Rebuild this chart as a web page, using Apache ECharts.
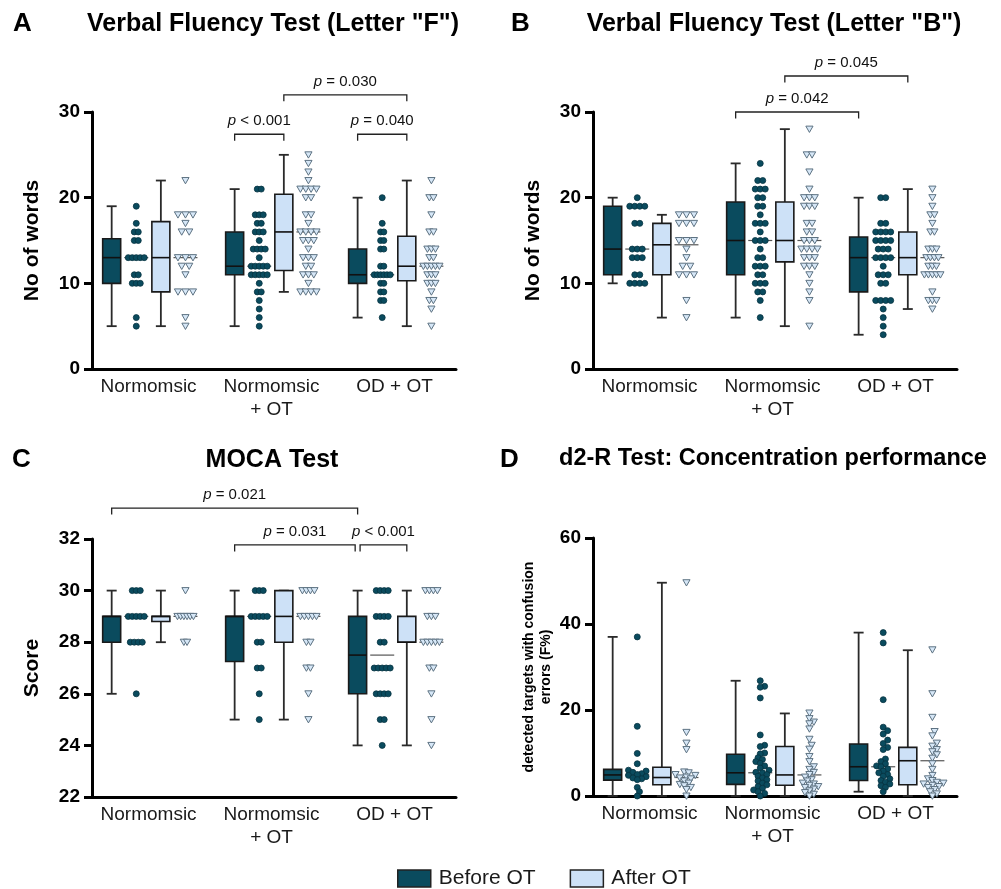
<!DOCTYPE html>
<html lang="en">
<head>
    <meta charset="UTF-8">
    <title>Olfactory training - cognitive tests</title>
    <script src="https://cdn.jsdelivr.net/npm/echarts@6.0.0/dist/echarts.min.js"></script>
</head>
<style>
    body{
        margin: 0;
        padding: 0;
        background: #fff;
    }
</style>
<body>
<div id="main" style="width: 1001px;height:889px;"></div>
<script>
    var groups = ['Normomsic', 'Normomsic\n+ OT', 'OD + OT'];

    // A: verbal fluency "F"  -- box = [min, q1, median, q3, max]
    var fBoxBefore = [[5, 10, 13, 15.2, 19], [5, 11, 12, 16, 21], [6, 10, 11, 14, 20]];
    var fBoxAfter = [[5, 9, 13, 17.2, 22], [9, 11.5, 16, 20.4, 25], [5, 10.3, 12, 15.5, 22]];
    var fPtsBefore = [
        [19, 17, 16, 16, 15, 15, 13, 13, 13, 13, 13, 11, 11, 10, 10, 10, 6, 5],
        [21, 21, 18, 18, 18, 17, 17, 16, 16, 16, 15, 14, 14, 14, 14, 13, 12, 12, 12, 12, 12, 11, 11, 11, 11, 11, 10, 9, 9, 8, 7, 6, 5],
        [20, 17, 16, 16, 15, 15, 14, 14, 12, 12, 11, 11, 11, 11, 11, 11, 10, 10, 9, 9, 8, 8, 6]
    ];
    var fPtsAfter = [
        [22, 18, 18, 18, 17, 16, 16, 13, 13, 13, 12, 12, 11, 9, 9, 9, 6, 5],
        [25, 24, 23, 22, 21, 21, 21, 21, 20, 20, 18, 18, 17, 16, 16, 16, 16, 15, 15, 15, 14, 13, 13, 13, 12, 12, 11, 11, 11, 10, 9, 9, 9, 9],
        [22, 20, 20, 18, 16, 16, 14, 14, 14, 13, 13, 12, 12, 12, 12, 12, 11, 11, 11, 10, 10, 10, 9, 8, 8, 7, 5]
    ];
    var fBrackets = [[1.1, 2.1, 32.0, '= 0.030'], [0.7, 1.1, 27.4, '< 0.001'], [1.7, 2.1, 27.4, '= 0.040']];

    // B: verbal fluency "B"
    var bBoxBefore = [[10, 11, 14, 19, 20], [6, 11, 15, 19.5, 24], [4, 9, 13, 15.4, 20]];
    var bBoxAfter = [[6, 11, 14.5, 17, 18], [5, 12.5, 15, 19.5, 28], [7, 11, 13, 16, 21]];
    var bPtsBefore = [
        [20, 19, 19, 19, 19, 17, 17, 14, 14, 14, 13, 13, 13, 11, 11, 10, 10, 10, 10],
        [24, 22, 22, 21, 21, 21, 20, 20, 19, 19, 18, 17, 17, 17, 16, 15, 15, 15, 14, 13, 13, 12, 12, 12, 11, 11, 10, 10, 10, 9, 9, 8, 6],
        [20, 20, 17, 17, 16, 16, 16, 16, 15, 15, 15, 15, 14, 14, 14, 13, 13, 13, 13, 12, 11, 11, 11, 10, 10, 8, 8, 8, 8, 7, 6, 5, 4]
    ];
    var bPtsAfter = [
        [18, 18, 18, 17, 17, 17, 15, 15, 15, 14, 13, 12, 12, 11, 11, 11, 8, 6],
        [28, 25, 25, 23, 21, 20, 20, 20, 19, 19, 19, 17, 17, 16, 16, 15, 15, 15, 14, 14, 14, 14, 13, 13, 13, 12, 12, 12, 11, 10, 9, 8, 5],
        [21, 20, 19, 18, 18, 17, 16, 16, 14, 14, 14, 13, 13, 13, 13, 12, 12, 12, 11, 11, 11, 11, 11, 9, 8, 8, 8, 7]
    ];
    var bBrackets = [[1.1, 2.1, 34.2, '= 0.045'], [0.7, 1.7, 30.0, '= 0.042']];

    // C: MOCA
    var mBoxBefore = [[26, 28, 29, 29, 30], [25, 27.25, 29, 29, 30], [24, 26, 27.5, 29, 30]];
    var mBoxAfter = [[28, 28.8, 29, 29, 30], [25, 28, 29, 30, 30], [24, 28, 28, 29, 30]];
    var mPtsBefore = [
        [30, 30, 30, 29, 29, 29, 29, 29, 28, 28, 28, 28, 26],
        [30, 30, 30, 29, 29, 29, 29, 29, 28, 28, 27, 27, 26, 25],
        [30, 30, 30, 30, 29, 29, 29, 29, 28, 28, 27, 27, 27, 27, 27, 26, 26, 26, 26, 25, 25, 24]
    ];
    var mPtsAfter = [
        [30, 29, 29, 29, 29, 29, 29, 28, 28],
        [30, 30, 30, 30, 29, 29, 29, 29, 29, 28, 28, 27, 27, 26, 25],
        [30, 30, 30, 30, 29, 29, 29, 28, 28, 28, 28, 28, 27, 27, 26, 25, 24]
    ];
    var mBrackets = [[-0.3, 1.7, 33.2, '= 0.021'], [0.7, 1.68, 31.77, '= 0.031'], [1.72, 2.1, 31.77, '< 0.001']];

    // D: d2-R confusion errors (F%)
    var dBoxBefore = [[0, 3.7, 4.9, 6.2, 37], [0, 2.7, 5.4, 9.7, 26.8], [1, 3.6, 6.8, 12.1, 38]];
    var dBoxAfter = [[0, 2.6, 4.3, 6.7, 49.6], [0, 2.5, 4.9, 11.5, 19.2], [0, 2.6, 8.2, 11.3, 33.9]];
    var dPtsBefore = [
        [37, 16.2, 9.9, 7.5, 6, 5.8, 5.5, 5.2, 5, 4.8, 4.5, 4.2, 4, 3.8, 2, 1, 0],
        [26.8, 25.5, 25.3, 22.8, 14.2, 11.8, 11.5, 10, 9.8, 8.9, 8.5, 8, 7.6, 7, 6.5, 6, 5.5, 5.4, 5, 4.6, 4.2, 3.8, 3.5, 3, 2.6, 2.2, 1.8, 1.4, 1, 0.6, 0],
        [38, 35.6, 22.4, 16, 15.2, 14.4, 13, 12.2, 11.3, 10.8, 8.6, 8, 7.5, 7, 6.8, 6.3, 5.8, 5.4, 5, 4.6, 4, 3.6, 3.2, 2.8, 2.4, 2, 1]
    ];
    var dPtsAfter = [
        [49.6, 14.8, 12.3, 10.8, 5.6, 5.4, 5, 4.8, 4.4, 4.2, 4, 3.5, 3, 2.7, 2.4, 2, 1.5, 0],
        [19.3, 18, 17.2, 16.8, 15.6, 13.2, 11.8, 10.9, 9.2, 8, 6.8, 6.2, 5.5, 5, 4.4, 3.8, 3.5, 3, 2.8, 2.5, 2.2, 2, 1.6, 1.2, 0.8, 0.4, 0],
        [34, 23.8, 18.3, 15, 14, 12.3, 11.6, 10.8, 10.3, 9.6, 8.8, 7.5, 6.2, 4.8, 4, 3.6, 3.2, 3, 2.8, 2.5, 2.2, 2, 1.5, 1, 0.5, 0]
    ];

    var FONT = '"Liberation Sans", Arial, sans-serif';
    var DARK = '#0a4b5e';
    var LIGHT = '#cde1f7';
    // x offsets inside one group: box before, dots before, box after, dots after
    var OFF = [-0.3, -0.1, 0.1, 0.3];

    var panels = [
        {grid: {left: 92, top: 112, width: 364, height: 257}, min: 0, max: 30, interval: 10, name: 'No of words', nameGap: 48, nameSize: 21,
            boxB: fBoxBefore, boxA: fBoxAfter, ptsB: fPtsBefore, ptsA: fPtsAfter, brackets: fBrackets, swarm: false},
        {grid: {left: 593, top: 112, width: 364, height: 257}, min: 0, max: 30, interval: 10, name: 'No of words', nameGap: 48, nameSize: 21,
            boxB: bBoxBefore, boxA: bBoxAfter, ptsB: bPtsBefore, ptsA: bPtsAfter, brackets: bBrackets, swarm: false},
        {grid: {left: 92, top: 539, width: 364, height: 258}, min: 22, max: 32, interval: 2, name: 'Score', nameGap: 48, nameSize: 21,
            boxB: mBoxBefore, boxA: mBoxAfter, ptsB: mPtsBefore, ptsA: mPtsAfter, brackets: mBrackets, swarm: false},
        {grid: {left: 593, top: 538, width: 364, height: 258}, min: 0, max: 60, interval: 20, name: 'detected targets with confusion\nerrors (F%)', nameGap: 38, nameSize: 14,
            boxB: dBoxBefore, boxA: dBoxAfter, ptsB: dPtsBefore, ptsA: dPtsAfter, brackets: [], swarm: true}
    ];

    function boxRender(fill) {
        return function (params, api) {
            var x = api.value(0);
            var p = [1, 2, 3, 4, 5].map(function (i) { return api.coord([x, api.value(i)]); });
            var cx = p[0][0], hw = 9, cw = 5;
            var ln = {stroke: '#2a2a2a', lineWidth: 1.8};
            return {type: 'group', children: [
                {type: 'line', shape: {x1: cx, y1: p[0][1], x2: cx, y2: p[1][1]}, style: ln},
                {type: 'line', shape: {x1: cx, y1: p[3][1], x2: cx, y2: p[4][1]}, style: ln},
                {type: 'line', shape: {x1: cx - cw, y1: p[0][1], x2: cx + cw, y2: p[0][1]}, style: ln},
                {type: 'line', shape: {x1: cx - cw, y1: p[4][1], x2: cx + cw, y2: p[4][1]}, style: ln},
                {type: 'rect', shape: {x: cx - hw, y: p[3][1], width: 2 * hw, height: p[1][1] - p[3][1]},
                    style: {fill: fill, stroke: '#1a1a1a', lineWidth: 1.6}},
                {type: 'line', shape: {x1: cx - hw, y1: p[2][1], x2: cx + hw, y2: p[2][1]}, style: {stroke: '#111', lineWidth: 1.6}}
            ]};
        };
    }

    // spread the points of one column sideways (rows of equal values, or a beeswarm)
    function layoutColumn(vals, api, x, swarm, maxSp) {
        var cx = api.coord([x, vals[0]])[0];
        var pts = vals.map(function (v) { return {v: v, y: api.coord([x, v])[1], x: cx}; });
        if (!swarm) {
            var rows = {}, maxN = 1;
            pts.forEach(function (p) { (rows[p.v] = rows[p.v] || []).push(p); });
            Object.keys(rows).forEach(function (k) { maxN = Math.max(maxN, rows[k].length); });
            var sp = maxN > 1 ? Math.min(maxSp, 16 / (maxN - 1)) : 0;
            Object.keys(rows).forEach(function (k) {
                var r = rows[k];
                r.forEach(function (p, i) { p.x = cx + (i - (r.length - 1) / 2) * sp; });
            });
        } else {
            var d = 4.4, placed = [];
            pts.slice().sort(function (a, b) { return a.v - b.v; }).forEach(function (p) {
                for (var k = 0; k < 60; k++) {
                    var off = (k % 2 ? 1 : -1) * Math.ceil(k / 2) * d / 2;
                    var ok = placed.every(function (q) {
                        var dx = q.x - (cx + off), dy = q.y - p.y;
                        return dx * dx + dy * dy >= d * d;
                    });
                    if (ok) { p.x = cx + off; break; }
                }
                placed.push(p);
            });
        }
        return pts;
    }

    function scatterRender(ptsArr, triangle, swarm) {
        return function (params, api) {
            var x = api.value(0);
            var med = api.coord([x, api.value(1)]);
            var pts = layoutColumn(ptsArr[params.dataIndex], api, x, swarm, triangle ? 7.5 : 5);
            var children = [{type: 'line', shape: {x1: med[0] - 12, y1: med[1], x2: med[0] + 12, y2: med[1]},
                style: {stroke: '#555', lineWidth: 1.2}}];
            pts.forEach(function (p) {
                if (triangle) {
                    children.push({type: 'polygon', shape: {points: [[p.x - 3.6, p.y - 3], [p.x + 3.6, p.y - 3], [p.x, p.y + 3.3]]},
                        style: {fill: '#d6e7f7', stroke: '#5d7282', lineWidth: 1}});
                } else {
                    children.push({type: 'circle', shape: {cx: p.x, cy: p.y, r: 3},
                        style: {fill: DARK, stroke: '#063240', lineWidth: 0.8}});
                }
            });
            return {type: 'group', children: children};
        };
    }

    function bracketRender(list) {
        return function (params, api) {
            var a = api.coord([api.value(0), api.value(2)]);
            var b = api.coord([api.value(1), api.value(2)]);
            var leg = 6.5;
            return {type: 'group', children: [
                {type: 'polyline', shape: {points: [[a[0], a[1] + leg], [a[0], a[1]], [b[0], a[1]], [b[0], a[1] + leg]]},
                    style: {stroke: '#222', lineWidth: 1.3, fill: null}},
                {type: 'text', x: (a[0] + b[0]) / 2, y: a[1] - 6, style: {
                    text: '{i|p} ' + list[params.dataIndex][3], align: 'center', verticalAlign: 'bottom',
                    font: '15px ' + FONT, fill: '#111',
                    rich: {i: {fontStyle: 'italic', fontSize: 15, fontFamily: FONT, fill: '#111'}}
                }}
            ]};
        };
    }

    var grids = [], xAxes = [], yAxes = [], series = [];
    panels.forEach(function (pn, i) {
        grids.push(pn.grid);
        xAxes.push({
            gridIndex: i, type: 'value', min: -0.46, max: 2.5,
            axisLine: {onZero: false, lineStyle: {color: '#000', width: 3}},
            axisTick: {show: false}, splitLine: {show: false},
            axisLabel: {customValues: [0, 1, 2], formatter: function (v) { return groups[Math.round(v)]; },
                fontSize: 19, color: '#1a1a1a', fontFamily: FONT, margin: 6, lineHeight: 23}
        });
        yAxes.push({
            gridIndex: i, type: 'value', min: pn.min, max: pn.max, interval: pn.interval,
            axisLine: {show: true, onZero: false, lineStyle: {color: '#000', width: 3}},
            axisTick: {show: true, length: 8, lineStyle: {color: '#000', width: 3}},
            axisLabel: {fontSize: 19, fontWeight: 'bold', color: '#000', margin: 12, fontFamily: FONT},
            splitLine: {show: false},
            name: pn.name, nameLocation: 'middle', nameGap: pn.nameGap,
            nameTextStyle: {fontSize: pn.nameSize, fontWeight: 'bold', color: '#000', fontFamily: FONT, lineHeight: pn.nameSize + 3}
        });
        var common = {type: 'custom', xAxisIndex: i, yAxisIndex: i, clip: false};
        series.push(Object.assign({name: 'Before OT', itemStyle: {color: DARK}, encode: {x: 0, y: [1, 2, 3, 4, 5]},
            data: pn.boxB.map(function (b, g) { return [g + OFF[0]].concat(b); }), renderItem: boxRender(DARK)}, common));
        series.push(Object.assign({name: 'After OT', itemStyle: {color: LIGHT}, encode: {x: 0, y: [1, 2, 3, 4, 5]},
            data: pn.boxA.map(function (b, g) { return [g + OFF[2]].concat(b); }), renderItem: boxRender(LIGHT)}, common));
        series.push(Object.assign({encode: {x: 0, y: 1},
            data: pn.boxB.map(function (b, g) { return [g + OFF[1], b[2]]; }), renderItem: scatterRender(pn.ptsB, false, pn.swarm)}, common));
        series.push(Object.assign({encode: {x: 0, y: 1},
            data: pn.boxA.map(function (b, g) { return [g + OFF[3], b[2]]; }), renderItem: scatterRender(pn.ptsA, true, pn.swarm)}, common));
        if (pn.brackets.length) {
            series.push(Object.assign({encode: {x: [0, 1], y: 2}, z: 5,
                data: pn.brackets.map(function (b) { return [b[0], b[1], b[2]]; }), renderItem: bracketRender(pn.brackets)}, common));
        }
    });

    function headText(x, y, text, size, align) {
        return {type: 'text', x: x, y: y, style: {text: text, font: 'bold ' + size + 'px ' + FONT, fill: '#000',
            align: align, verticalAlign: 'middle'}};
    }

    var chart = echarts.init(document.getElementById('main'));
    chart.setOption({
        animation: false,
        backgroundColor: '#fff',
        grid: grids,
        xAxis: xAxes,
        yAxis: yAxes,
        series: series,
        legend: {
            left: 392, top: 863, itemWidth: 33, itemHeight: 17, itemGap: 34, selectedMode: false,
            textStyle: {fontSize: 21, color: '#1a1a1a', fontFamily: FONT, padding: [0, 0, 0, 3]},
            data: [
                {name: 'Before OT', icon: 'rect', itemStyle: {color: DARK, borderColor: '#222', borderWidth: 1.5}},
                {name: 'After OT', icon: 'rect', itemStyle: {color: LIGHT, borderColor: '#222', borderWidth: 1.5}}
            ]
        },
        graphic: [
            headText(13, 24, 'A', 26, 'left'),
            headText(273, 24, 'Verbal Fluency Test (Letter "F")', 25, 'center'),
            headText(511, 24, 'B', 26, 'left'),
            headText(774, 24, 'Verbal Fluency Test (Letter "B")', 25, 'center'),
            headText(12, 460, 'C', 26, 'left'),
            headText(272, 460, 'MOCA Test', 25, 'center'),
            headText(500, 460, 'D', 26, 'left'),
            headText(773, 459, 'd2-R Test: Concentration performance', 23.5, 'center')
        ]
    });
</script>
</body>
</html>
